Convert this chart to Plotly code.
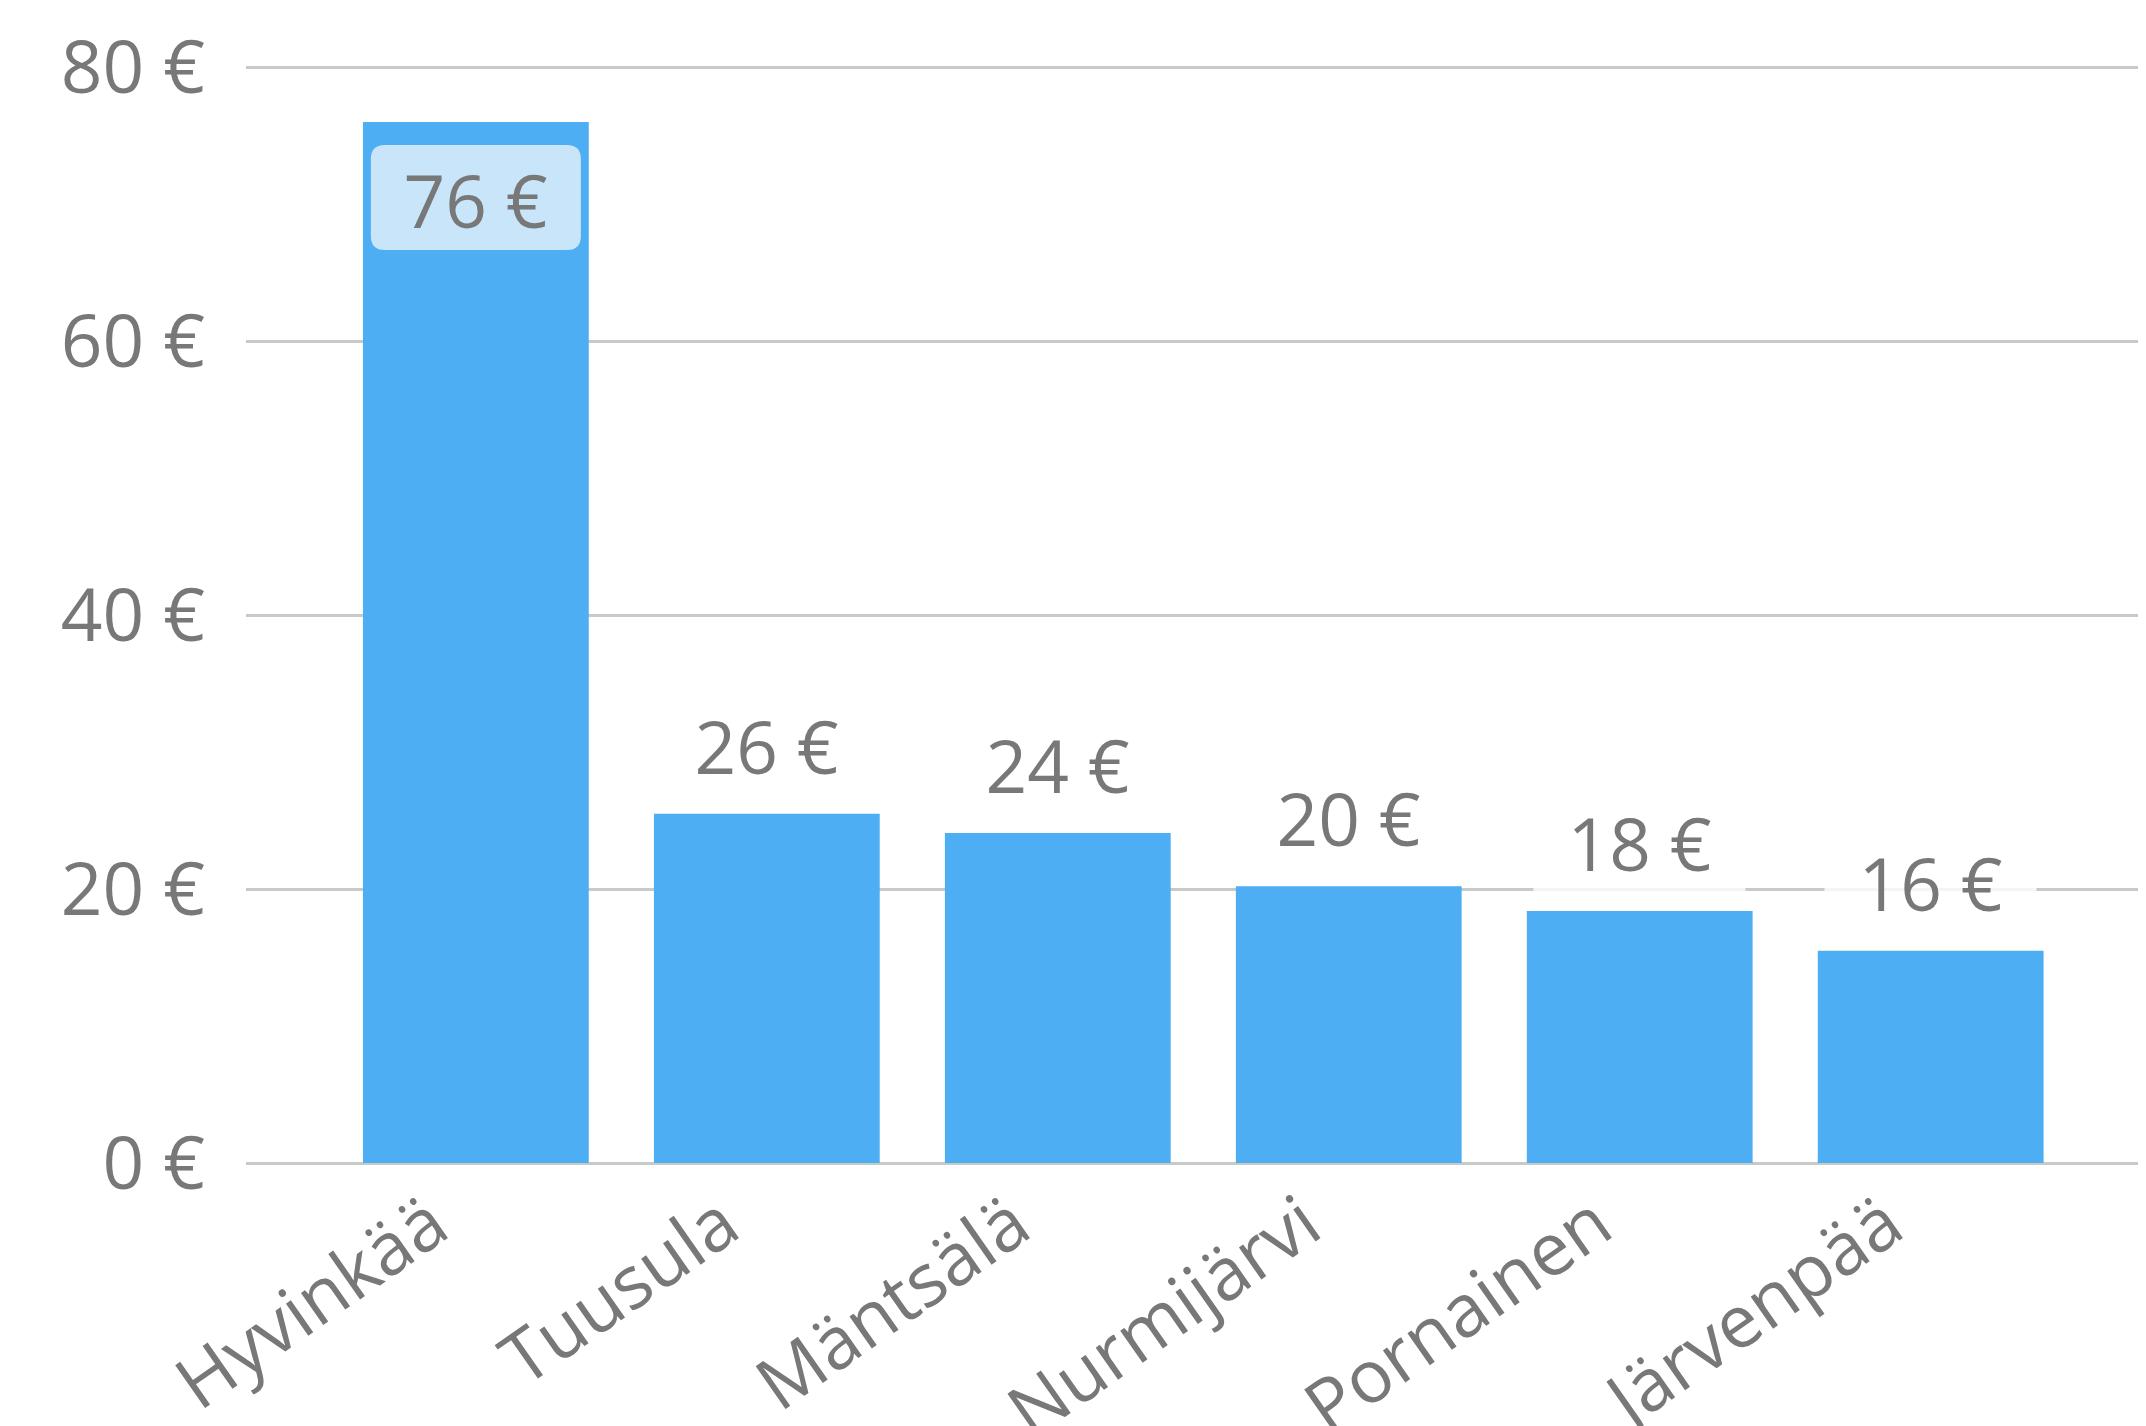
import plotly.graph_objects as go

categories = ["Hyvinkää", "Tuusula", "Mäntsälä", "Nurmijärvi", "Pornainen", "Järvenpää"]
values = [76.0, 25.5, 24.1, 20.2, 18.4, 15.5]
labels = ["76 €", "26 €", "24 €", "20 €", "18 €", "16 €"]
y_ticks = [0, 20, 40, 60, 80]
y_tick_labels = ["0 €", "20 €", "40 €", "60 €", "80 €"]

FONT = "Open Sans, Noto Sans, sans-serif"
TEXT = "#787878"
BAR = "#4daef4"
GRID = "#c6cbc6"


def rounded_box(x0, x1, y0, y1, r):
    # pixel-space rounded rectangle (y positive upwards)
    return (f"M {x0 + r} {y1} L {x1 - r} {y1} Q {x1} {y1} {x1} {y1 - r} "
            f"L {x1} {y0 + r} Q {x1} {y0} {x1 - r} {y0} "
            f"L {x0 + r} {y0} Q {x0} {y0} {x0} {y0 + r} "
            f"L {x0} {y1 - r} Q {x0} {y1} {x0 + r} {y1} Z")


fig = go.Figure()
fig.add_trace(go.Bar(
    x=categories, y=values, marker=dict(color=BAR, line=dict(width=0)),
    hoverinfo="skip",
))

annotations = []
shapes = []
for c, v, t in zip(categories, values, labels):
    inside = v > 50
    if inside:
        shapes.append(dict(
            type="path", xref="x", yref="y", xsizemode="pixel", ysizemode="pixel",
            xanchor=c, yanchor=v,
            path=rounded_box(-105, 105, -128, -23, 14),
            fillcolor="#c9e5fa", line=dict(width=0), layer="above",
        ))
    annotations.append(dict(
        x=c, y=v, xref="x", yref="y", text=t, showarrow=False,
        yshift=-77 if inside else 69, yanchor="middle",
        font=dict(family=FONT, size=73, color=TEXT),
        bgcolor="rgba(0,0,0,0)" if inside else "rgba(255,255,255,0.8)",
        width=195, height=88, borderpad=8, align="center", valign="middle",
    ))

fig.update_layout(
    width=2138, height=1418,
    margin=dict(l=238, r=0, t=51, b=263),
    paper_bgcolor="white", plot_bgcolor="white",
    bargap=0.224, showlegend=False,
    annotations=annotations, shapes=shapes,
    font=dict(family=FONT, size=73, color=TEXT),
)
fig.update_xaxes(
    range=[-0.79, 5.74], tickangle=-35, showgrid=False, showline=False,
    ticks="", automargin=False, ticklabelstandoff=4, ticklabelshift=-44,
    tickfont=dict(family=FONT, size=73, color=TEXT),
)
fig.update_yaxes(
    range=[0, 80.6], tickvals=y_ticks, ticktext=y_tick_labels, showgrid=True,
    gridcolor=GRID, gridwidth=3, zeroline=True, zerolinecolor=GRID,
    zerolinewidth=3, showline=False, ticks="", automargin=False,
    ticklabelstandoff=40,
    tickfont=dict(family=FONT, size=73, color=TEXT),
)

fig.write_html("out.html")
